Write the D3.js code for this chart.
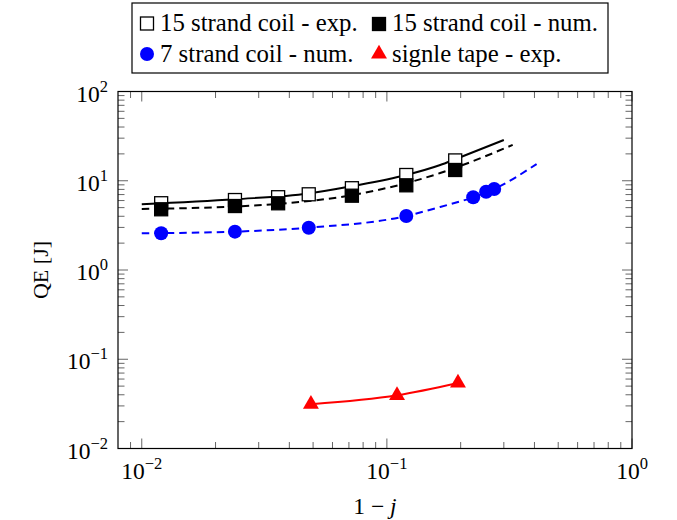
<!DOCTYPE html>
<html><head><meta charset="utf-8">
<script src="https://cdn.jsdelivr.net/npm/d3@7"></script>
<style>body{margin:0;background:#fff}</style>
</head><body><svg id="c" width="677" height="520"></svg>
<script>
// ---- data ----
const exp15X = [0.012, 0.024, 0.036, 0.048, 0.072, 0.12, 0.19];
const exp15Y = [5.6, 6.08, 6.54, 7.05, 8.25, 11.6, 16.9];
const num15X = [0.012, 0.024, 0.036, 0.072, 0.12, 0.19];
const num15Y = [4.79, 5.21, 5.59, 6.8, 8.89, 13.2];
const num7X = [0.012, 0.024, 0.048, 0.12, 0.225, 0.254, 0.274];
const num7Y = [2.58, 2.69, 2.98, 4.03, 6.53, 7.54, 8.08];
const tapeX = [0.049, 0.11, 0.195];
const tapeY = [0.0313, 0.0394, 0.0542];
// fitted curves
const fitExp15X = [0.01, 0.024, 0.048, 0.072, 0.12, 0.165, 0.19, 0.30];
const fitExp15Y = [5.45, 6.2, 7.2, 8.7, 11.6, 15.0, 17.4, 28.6];
const fitNum15X = [0.01, 0.024, 0.036, 0.072, 0.12, 0.165, 0.204, 0.326];
const fitNum15Y = [4.83, 5.15, 5.5, 6.9, 9.4, 12.2, 15.0, 25.2];
const fitNum7X = [0.01, 0.024, 0.048, 0.12, 0.165, 0.225, 0.274, 0.408];
const fitNum7Y = [2.58, 2.69, 2.98, 4.03, 5.08, 6.53, 8.08, 15.4];
// axes
const xMajor = [0.01, 0.1, 1];
const xMajorExp = ["\u22122", "\u22121", "0"];
const yMajor = [0.01, 0.1, 1, 10, 100];
const yMajorExp = ["\u22122", "\u22121", "0", "1", "2"];
const legendLabels = ["15 strand coil - exp.", "15 strand coil - num.", "7 strand coil - num.", "signle tape - exp."];
const xLabel = ["1 \u2212 ", "j"];
const yLabel = "QE [J]";

// ---- drawing ----
const svg = d3.select("#c");
const L = 118, R = 632, T = 91.5, B = 448.5;
const x = d3.scaleLog().domain([0.008, 1]).range([L, R]);
const y = d3.scaleLog().domain([0.01, 100]).range([B, T]);
const serif = "Liberation Serif, Times New Roman, serif";
const tickCol = "#666";

const gT = svg.append("g");
const xt = x.ticks().filter(v => v > 0.0085);
const yt = y.ticks();
const isMajor = v => Math.abs(Math.log10(v) - Math.round(Math.log10(v))) < 1e-6;
xt.forEach(v => {
  const len = isMajor(v) ? 10 : 6.5;
  gT.append("line").attr("x1", x(v)).attr("x2", x(v)).attr("y1", B).attr("y2", B - len)
    .attr("stroke", tickCol).attr("stroke-width", 1);
  gT.append("line").attr("x1", x(v)).attr("x2", x(v)).attr("y1", T).attr("y2", T + len)
    .attr("stroke", tickCol).attr("stroke-width", 1);
});
yt.forEach(v => {
  const len = isMajor(v) ? 10 : 6.5;
  gT.append("line").attr("y1", y(v)).attr("y2", y(v)).attr("x1", L).attr("x2", L + len)
    .attr("stroke", tickCol).attr("stroke-width", 1);
  gT.append("line").attr("y1", y(v)).attr("y2", y(v)).attr("x1", R).attr("x2", R - len)
    .attr("stroke", tickCol).attr("stroke-width", 1);
});

// tick labels
xMajor.forEach((v, i) => {
  const t = svg.append("text").attr("x", x(v)).attr("y", 479).attr("text-anchor", "middle")
    .attr("font-family", serif).attr("font-size", 23.5).attr("fill", "#000");
  t.append("tspan").text("10");
  t.append("tspan").attr("dy", -10).attr("font-size", 16.5).text(xMajorExp[i]);
});
yMajor.forEach((v, i) => {
  const t = svg.append("text").attr("x", 108).attr("y", y(v) + 10).attr("text-anchor", "end")
    .attr("font-family", serif).attr("font-size", 23.5).attr("fill", "#000");
  t.append("tspan").text("10");
  t.append("tspan").attr("dy", -10).attr("font-size", 16.5).text(yMajorExp[i]);
});

// axis titles
const xl = svg.append("text").attr("x", (L + R) / 2).attr("y", 514).attr("text-anchor", "middle")
  .attr("font-family", serif).attr("font-size", 23.5);
xl.append("tspan").text(xLabel[0]);
xl.append("tspan").attr("font-style", "italic").text(xLabel[1]);
svg.append("text").attr("transform", `translate(40,${(T + B) / 2}) rotate(-90)`)
  .attr("text-anchor", "middle").attr("dy", "0.35em")
  .attr("font-family", serif).attr("font-size", 22).text(yLabel);

// lines
const line = d3.line().x(d => x(d[0])).y(d => y(d[1])).curve(d3.curveMonotoneX);
const zip = (a, b) => a.map((v, i) => [v, b[i]]);
const gP = svg.append("g");
gP.append("path").attr("d", line(zip(fitExp15X, fitExp15Y))).attr("fill", "none")
  .attr("stroke", "#000").attr("stroke-width", 2);
gP.append("path").attr("d", line(zip(fitNum15X, fitNum15Y))).attr("fill", "none")
  .attr("stroke", "#000").attr("stroke-width", 2).attr("stroke-dasharray", "7.5,5");
gP.append("path").attr("d", line(zip(fitNum7X, fitNum7Y))).attr("fill", "none")
  .attr("stroke", "#0000ff").attr("stroke-width", 2).attr("stroke-dasharray", "7.5,5");
gP.append("path").attr("d", line(zip(tapeX, tapeY))).attr("fill", "none")
  .attr("stroke", "#ff0000").attr("stroke-width", 2);

// markers
const S = 13;
const sq = (g, cx, cy, fill) => g.append("rect").attr("x", cx - S / 2).attr("y", cy - S / 2)
  .attr("width", S).attr("height", S).attr("fill", fill).attr("stroke", "#000").attr("stroke-width", 1.3);
const tri = d3.symbol().type(d3.symbolTriangle).size(110);
const circR = 7;
zip(exp15X, exp15Y).forEach(d => sq(gP, x(d[0]), y(d[1]), "#fff"));
zip(num15X, num15Y).forEach(d => sq(gP, x(d[0]), y(d[1]), "#000"));
zip(num7X, num7Y).forEach(d => gP.append("circle").attr("cx", x(d[0])).attr("cy", y(d[1]))
  .attr("r", circR).attr("fill", "#0000ff"));
zip(tapeX, tapeY).forEach(d => gP.append("path").attr("d", tri)
  .attr("transform", `translate(${x(d[0])},${y(d[1])})`).attr("fill", "#ff0000"));

// frame
svg.append("rect").attr("x", L).attr("y", T).attr("width", R - L).attr("height", B - T)
  .attr("fill", "none").attr("stroke", "#000").attr("stroke-width", 1.2);

// legend
const lg = svg.append("g");
lg.append("rect").attr("x", 132).attr("y", 3).attr("width", 476).attr("height", 70)
  .attr("fill", "#fff").attr("stroke", "#000").attr("stroke-width", 1.2);
const legPos = [[147, 23.5, 160, 31], [379, 24, 392, 31], [147, 54, 160, 62], [379, 54, 392, 62]];
sq(lg, legPos[0][0], legPos[0][1], "#fff");
sq(lg, legPos[1][0], legPos[1][1], "#000");
lg.append("circle").attr("cx", legPos[2][0]).attr("cy", legPos[2][1]).attr("r", circR).attr("fill", "#0000ff");
lg.append("path").attr("d", tri).attr("transform", `translate(${legPos[3][0]},${legPos[3][1]})`).attr("fill", "#ff0000");
legendLabels.forEach((s, i) => lg.append("text").attr("x", legPos[i][2]).attr("y", legPos[i][3])
  .attr("font-family", serif).attr("font-size", 24.8).attr("fill", "#000").text(s));
</script></body></html>
